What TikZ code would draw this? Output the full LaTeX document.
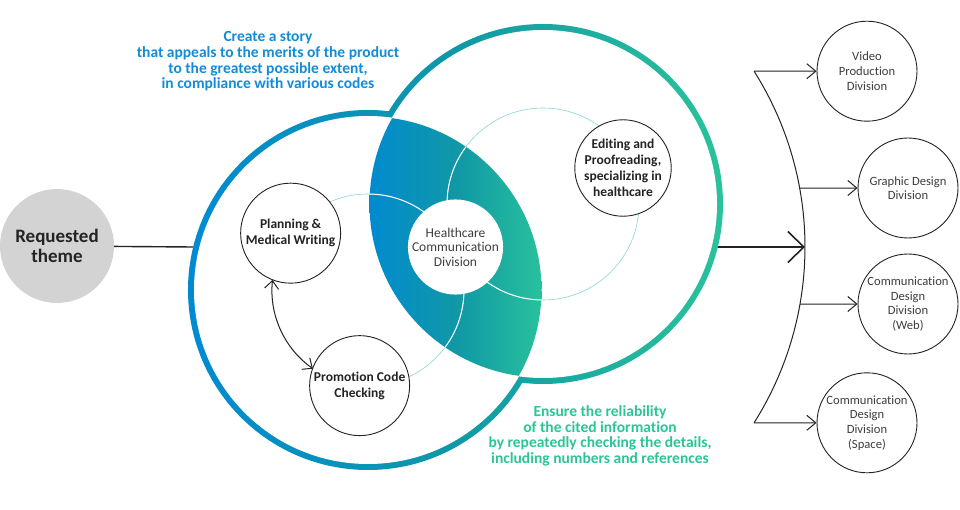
\documentclass[tikz,border=0pt]{standalone}
\usepackage{fontspec}
\setmainfont{Carlito}[Ligatures=NoCommon]
\usetikzlibrary{arrows.meta,calc}
\definecolor{bluec}{RGB}{0,138,210}
\definecolor{tealc}{RGB}{16,152,166}
\definecolor{greenc}{RGB}{42,195,155}
\definecolor{hblue}{RGB}{18,140,214}
\definecolor{hgreen}{RGB}{44,196,150}
\definecolor{thinc}{RGB}{140,212,218}
\definecolor{ink}{RGB}{35,35,35}
\definecolor{graytxt}{RGB}{62,62,62}
\definecolor{reqgray}{RGB}{211,211,211}
\tikzset{
  boldcirc/.style={circle, draw=ink, line width=0.9pt, fill=white, inner sep=0pt, align=center, text=ink, font=\bfseries\fontsize{13.5}{16}\selectfont},
  divcirc/.style={circle, draw=ink, line width=0.9pt, fill=white, inner sep=0pt, minimum size=100pt, align=center, text=graytxt, font=\fontsize{12.6}{14.6}\selectfont},
  headtxt/.style={align=center, inner sep=0pt, font=\bfseries\fontsize{15.5}{15.7}\selectfont},
  thinring/.style={draw=thinc, line width=0.6pt},
  lensline/.style={draw=white, line width=1pt},
  conn/.style={draw=ink, line width=1pt},
  barb/.style={-{Straight Barb[length=9pt, width=15pt]}},
  dblbarb/.style={{Straight Barb[length=8pt, width=14pt]}-{Straight Barb[length=8pt, width=14pt]}},
  bigbarb/.style={-{Straight Barb[length=16pt, width=31pt]}},
  gradfill/.style={left color=bluec, right color=greenc, middle color=tealc}
}
\begin{document}
\begin{tikzpicture}[x=1pt,y=-1pt]
\useasboundingbox (0,0) rectangle (960,510);
% key coordinates
\coordinate (L) at (368,290);
\coordinate (R) at (543,204);
\coordinate (ringL) at (193,247);
\coordinate (ringR) at (716,247);
\coordinate (C) at (476,247);
\coordinate (brkTop) at ($(C)+(-32.3:329)$);
\coordinate (brkG) at ($(C)+(-10.33:329)$);
\coordinate (brkMid) at (805,247);
\coordinate (brkW) at ($(C)+(9.98:329)$);
\coordinate (brkBot) at ($(C)+(32.3:329)$);
\coordinate (arrA) at ($(L)+(186:96)$);

% requested theme
\node[circle, fill=reqgray, minimum size=114pt, inner sep=0pt, align=center, text=ink,
      font=\bfseries\fontsize{19}{20}\selectfont] (req) at (57,246) {Requested\\theme};
\draw[conn, line width=1.4pt] (req) -- (ringL);

% output arrow and bracket
\draw[conn, line width=1.6pt, bigbarb] (ringR) -- (brkMid);
\draw[conn] (brkTop) arc[start angle=-32.3, end angle=32.3, radius=329];

% gradient outline ring (union of two circles)
\shade[gradfill] (L) circle[radius=180] (R) circle[radius=180];
\fill[white] (L) circle[radius=174] (R) circle[radius=174];

% lens
\begin{scope}
  \clip (L) circle[radius=173.5];
  \clip (R) circle[radius=173.5];
  \shade[gradfill] (365,20) rectangle (547,390);
\end{scope}

% thin orbit circles
\draw[thinring] (arrA) arc[start angle=186, end angle=485, radius=96];
\draw[thinring] (R) circle[radius=96];
\begin{scope}
  \clip (L) circle[radius=173.5];
  \clip (R) circle[radius=173.5];
  \draw[lensline] (arrA) arc[start angle=186, end angle=485, radius=96];
  \draw[lensline] (R) circle[radius=96];
\end{scope}

% double arrow along orbit
\draw[conn, dblbarb] (arrA) arc[start angle=186, end angle=125, radius=96];

% inner circles
\node[boldcirc, minimum size=100pt] (plan) at ($(L)+(216.3:96)$) {Planning \&\\Medical Writing};
\node[boldcirc, minimum size=100pt] (promo) at ($(L)+(95:96)$) {Promotion Code\\Checking};
\node[circle, fill=white, minimum size=94pt, inner sep=0pt, align=center, text=graytxt,
      font=\fontsize{13.5}{14.6}\selectfont] (hc) at (455.5,247) {Healthcare\\Communication\\Division};
\node[boldcirc, minimum size=88pt] (edit) at (623,168) {Editing and\\Proofreading,\\specializing in\\healthcare};

% division circles
\node[divcirc] (video) at (867,71.2) {Video\\Production\\Division};
\node[divcirc] (graphic) at (908,188) {Graphic Design\\Division};
\node[divcirc] (web) at (908,304) {Communication\\Design\\Division\\(Web)};
\node[divcirc] (space) at (867,422.8) {Communication\\Design\\Division\\(Space)};

\draw[conn, barb] (brkTop) -- (video);
\draw[conn, barb] (brkG) -- (graphic);
\draw[conn, barb] (brkW) -- (web);
\draw[conn, barb] (brkBot) -- (space);

% captions
\node[headtxt, text=hblue] (storytxt) at (268,61.5) {Create a story\\that appeals to the merits of the product\\to the greatest possible extent,\\in compliance with various codes};
\node[headtxt, text=hgreen] (reliabtxt) at (600,436) {Ensure the reliability\\of the cited information\\by repeatedly checking the details,\\including numbers and references};
\end{tikzpicture}
\end{document}
